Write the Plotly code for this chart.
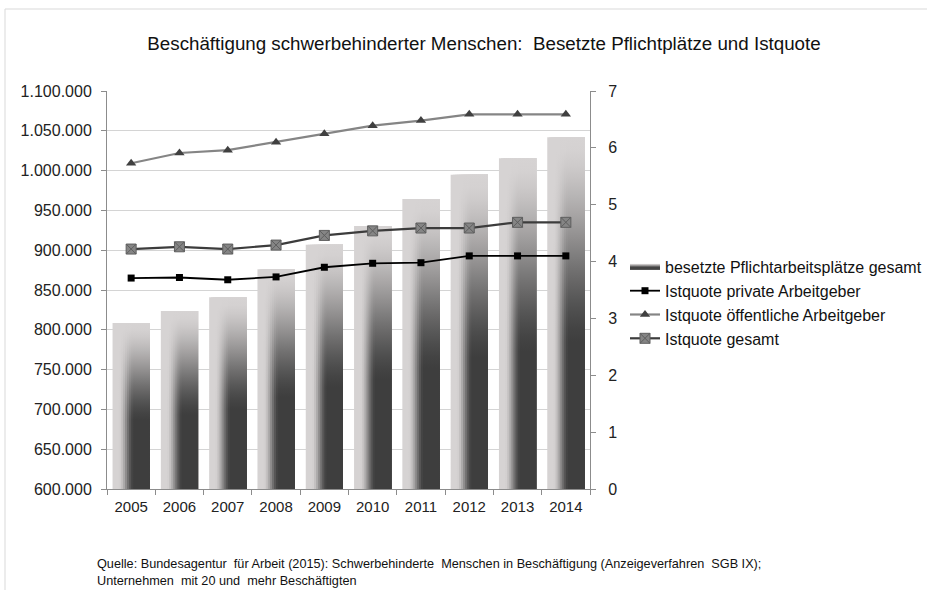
import plotly.graph_objects as go

# ---------------- data ----------------
years = ["2005", "2006", "2007", "2008", "2009", "2010", "2011", "2012", "2013", "2014"]
besetzte_plaetze = [808500, 823600, 840800, 876000, 906900, 930400, 964300, 994900, 1015400, 1041800]
quote_privat = [3.71, 3.72, 3.68, 3.73, 3.90, 3.97, 3.98, 4.10, 4.10, 4.10]
quote_oeffentlich = [5.73, 5.91, 5.96, 6.10, 6.25, 6.39, 6.48, 6.59, 6.59, 6.59]
quote_gesamt = [4.22, 4.26, 4.22, 4.29, 4.46, 4.54, 4.59, 4.59, 4.69, 4.69]

left_ticks = [600000 + 50000 * i for i in range(11)]
right_ticks = list(range(8))

title_text = "Beschäftigung schwerbehinderter Menschen:  Besetzte Pflichtplätze und Istquote"
source_text = ("Quelle: Bundesagentur  für Arbeit (2015): Schwerbehinderte  Menschen in Beschäftigung "
               "(Anzeigeverfahren  SGB IX);<br>Unternehmen  mit 20 und  mehr Beschäftigten")

# ---------------- layout geometry ----------------
W, H = 927, 590
PL, PR, PT, PB = 107, 590, 91, 489   # plot area in pixels
Y0, Y1 = 600000, 1100000
xpos = list(range(len(years)))


def px_x(p):
    return (p - PL) / (PR - PL)


def px_y(p):
    return (PB - p) / (PB - PT)


FONT = "Liberation Sans, Arial, sans-serif"
fig = go.Figure()

# ---------------- gradient bars ----------------
BAR_W = 0.77
M = 18
LIGHT = (214, 211, 211)
DARK = (62, 62, 62)


def smooth(t):
    t = max(0.0, min(1.0, t))
    return t * t * (3 - 2 * t)


def color_at(u, v):
    h = smooth((u - 0.16) / (0.58 - 0.16))
    t = max(0.0, min(1.0, (0.97 - v) / (0.97 - 0.42)))
    g = 0.5 * t + 0.5 * smooth(t)
    d = h * g
    c = [round(LIGHT[k] + (DARK[k] - LIGHT[k]) * d) for k in range(3)]
    return "rgb(%d,%d,%d)" % tuple(c)


vstops = [k / 24 for k in range(25)]
for b_idx, (xc, val) in enumerate(zip(xpos, besetzte_plaetze)):
    left = xc - BAR_W / 2
    right = xc + BAR_W / 2
    for i in range(M):
        u = (i + 0.5) / M
        x0 = left + i * BAR_W / M
        cs = [[v, color_at(u, v)] for v in vstops]
        show = (b_idx == 0 and i == M // 2)
        fig.add_trace(go.Scatter(
            x=[x0, right, right, x0, x0],
            y=[Y0, Y0, val, val, Y0],
            mode="none", fill="toself",
            fillgradient=dict(type="vertical", colorscale=cs),
            name="besetzte Pflichtarbeitsplätze gesamt",
            legendgroup="bars", showlegend=show, legendrank=1,
            hoverinfo="skip", xaxis="x", yaxis="y",
        ))

# ---------------- lines ----------------
fig.add_trace(go.Scatter(
    x=xpos, y=quote_privat, yaxis="y2", mode="lines+markers",
    name="Istquote private Arbeitgeber", legendrank=2, legendgroup="p",
    line=dict(color="#000000", width=1.8),
    marker=dict(symbol="square", size=7, color="#000000"),
))
fig.add_trace(go.Scatter(
    x=xpos, y=quote_oeffentlich, yaxis="y2", mode="lines+markers",
    name="Istquote öffentliche Arbeitgeber", legendrank=3, legendgroup="o",
    line=dict(color="#858585", width=2.2),
    marker=dict(symbol="triangle-up", size=9, color="#404040"),
))
fig.add_trace(go.Scatter(
    x=xpos, y=quote_gesamt, yaxis="y2", mode="lines+markers",
    name="Istquote gesamt", legendrank=4, legendgroup="g",
    line=dict(color="#3c3c3c", width=2.2),
    marker=dict(symbol="square-x", size=10, color="#858585",
                line=dict(color="#5e5e5e", width=1)),
))

# ---------------- layout ----------------
fig.update_layout(
    width=W, height=H, autosize=False,
    margin=dict(l=PL, r=W - PR, t=PT, b=H - PB, pad=0, autoexpand=False),
    paper_bgcolor="white", plot_bgcolor="white",
    separators=",.",
    font=dict(family=FONT, size=16, color="#222222"),
    showlegend=True,
    title=dict(text=title_text, x=484 / W, xanchor="center", xref="container",
               y=1 - 43 / H, yanchor="middle", yref="container",
               font=dict(family=FONT, size=18.75, color="#111111")),
    legend=dict(x=px_x(625), y=px_y(250), xanchor="left", yanchor="top",
                font=dict(family=FONT, size=16, color="#111111"),
                bgcolor="rgba(0,0,0,0)", traceorder="normal", tracegroupgap=2,
                itemclick=False, itemdoubleclick=False),
    xaxis=dict(range=[-0.5, len(years) - 0.5], tickmode="array", tickvals=xpos,
               ticktext=years, ticks="", showgrid=False, zeroline=False,
               showline=True, linecolor="#8c8c8c", linewidth=1,
               ticklabelstandoff=4, tickfont=dict(size=15), fixedrange=True,
               minor=dict(tickmode="array",
                          tickvals=[p - 0.5 for p in xpos] + [len(years) - 0.5],
                          ticks="outside", ticklen=5, tickcolor="#8c8c8c",
                          showgrid=False)),
    yaxis=dict(range=[Y0, Y1], tickvals=left_ticks, tickformat=",d",
               showgrid=True, gridcolor="#d4d4d4", gridwidth=1,
               showline=True, linecolor="#8c8c8c", linewidth=1,
               ticks="outside", ticklen=5, tickcolor="#8c8c8c",
               ticklabelstandoff=6, tickfont=dict(size=16), zeroline=False,
               fixedrange=True),
    yaxis2=dict(range=[0, 7], tickvals=right_ticks, overlaying="y", side="right",
                showgrid=False, showline=True, linecolor="#8c8c8c", linewidth=1,
                ticks="outside", ticklen=5, tickcolor="#8c8c8c",
                ticklabelstandoff=9, tickfont=dict(size=16), zeroline=False,
                fixedrange=True),
    shapes=[dict(type="rect", xref="paper", yref="paper",
                 x0=px_x(5), x1=px_x(W + 20), y0=px_y(H + 20), y1=px_y(9),
                 line=dict(color="#d9d9d9", width=1), fillcolor="rgba(0,0,0,0)",
                 layer="below")],
    annotations=[dict(text=source_text, xref="paper", yref="paper",
                      x=px_x(95), y=px_y(555), xanchor="left", yanchor="top",
                      align="left", showarrow=False,
                      font=dict(family=FONT, size=12.7, color="#111111"))],
)

fig.write_html("out.html", config={"displayModeBar": False},
               post_script="document.body.style.margin='0';document.body.style.overflow='hidden';")
